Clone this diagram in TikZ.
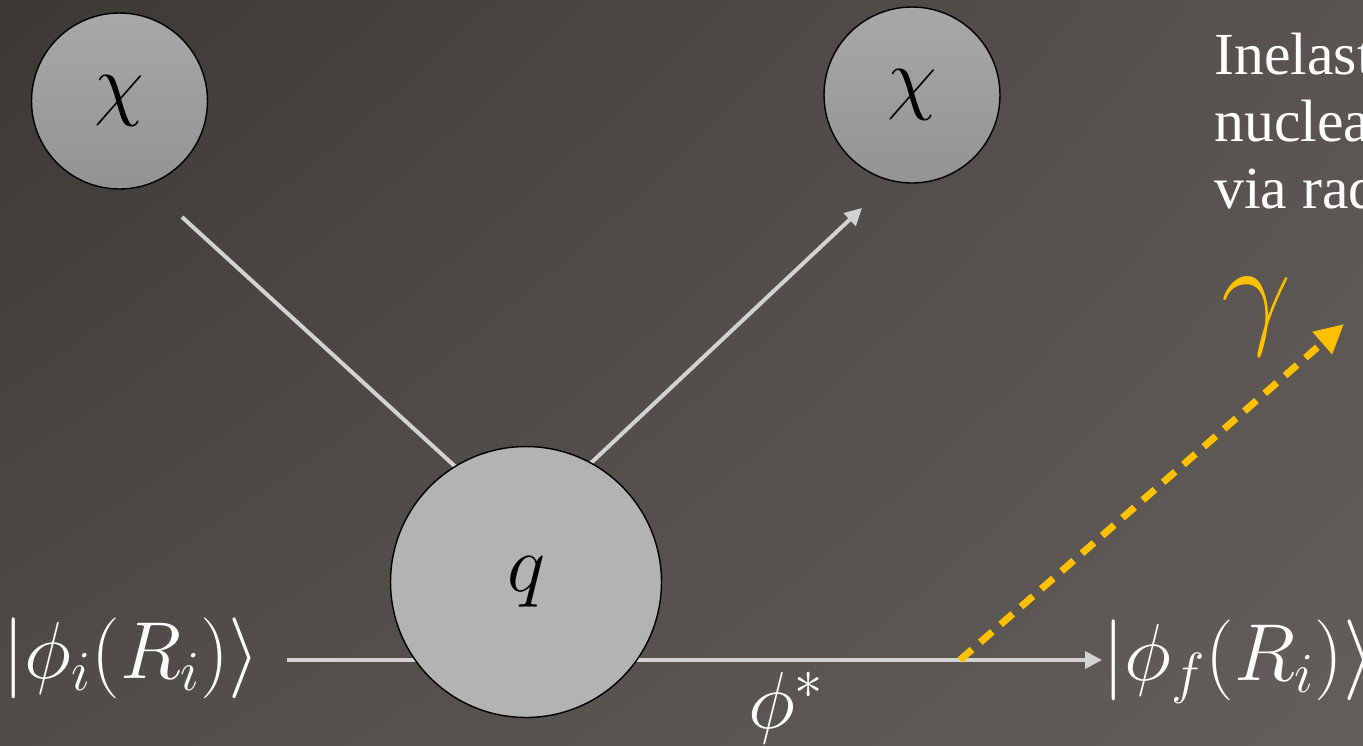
\documentclass[tikz,border=0pt]{standalone}
\usepackage{fix-cm}
\usepackage{fontspec}
\newfontfamily\tnr{Liberation Serif}
\usetikzlibrary{arrows.meta,shadings}
\definecolor{bgUL}{HTML}{3C3935}
\definecolor{bgUR}{HTML}{59544F}
\definecolor{bgLL}{HTML}{504C47}
\definecolor{bgLR}{HTML}{635E59}
\definecolor{lineC}{HTML}{D2D2D2}
\definecolor{yel}{HTML}{FFC000}
\definecolor{chiTop}{HTML}{A8A8A8}
\definecolor{chiBot}{HTML}{939393}
\definecolor{qFill}{HTML}{B3B3B3}
\tikzset{
  ball/.style={circle, draw=black, line width=0.8pt, inner sep=0pt},
  chiball/.style={ball, top color=chiTop, bottom color=chiBot, minimum size=3.52cm},
  qball/.style={ball, fill=qFill, minimum size=5.42cm},
  conn/.style={draw=lineC, line width=0.08cm},
  arr/.style={conn, -{Triangle[length=0.34cm, width=0.34cm]}},
  photon/.style={draw=yel, line width=0.14cm, dash pattern=on 0.32cm off 0.22cm,
     -{Triangle[length=0.58cm, width=0.56cm]}},
  big/.style={font=\fontsize{46}{54}\selectfont},
  wtext/.style={text=white, inner sep=0pt}
}
\begin{document}
\begin{tikzpicture}[x=0.02cm, y=-0.02cm]
\useasboundingbox (0,0) rectangle (1363,745);
\shade[upper left=bgUL, upper right=bgUR, lower left=bgLL, lower right=bgLR]
  (0,0) rectangle (1363,745);

% coordinates for free connector ends
\coordinate (lstart) at (182,217);
\coordinate (lend) at (470,480);
\coordinate (rstart) at (575,478);
\coordinate (rend) at (862,208);
\coordinate (hstart) at (287,660);
\coordinate (gstart) at (960,660);
\coordinate (gend) at (1344,324);

% labels
\node[wtext, big, anchor=base west] (phii) at (2,678) {$|\phi_i(R_i)\rangle$};
\node[wtext, big, anchor=base west] (phif) at (1102,680) {$|\phi_f(R_i)\rangle$};
\node[wtext, big, anchor=base] (phis) at (786,728) {$\phi^*$};
\node[text=yel, inner sep=0pt, font=\fontsize{71}{80}\selectfont, anchor=base] (gam) at (1257,331) {$\gamma$};
\node[wtext, anchor=base west, align=left, font=\tnr\fontsize{34}{38.1}\selectfont] (txt) at (1214,208)
  {Inelastic\\nuclear\\via radiative};

% connectors
\draw[conn] (lstart) -- (lend);
\draw[arr] (rstart) -- (rend);
\draw[arr] (hstart) -- (phif.west |- hstart);
\draw[photon] (gstart) -- (gend);

% balls
\node[chiball, big] (chi1) at (119.5,101) {$\chi$};
\node[chiball, big] (chi2) at (912,95) {$\chi$};
\node[qball, big] (q) at (526,582) {$q$};
\end{tikzpicture}
\end{document}
